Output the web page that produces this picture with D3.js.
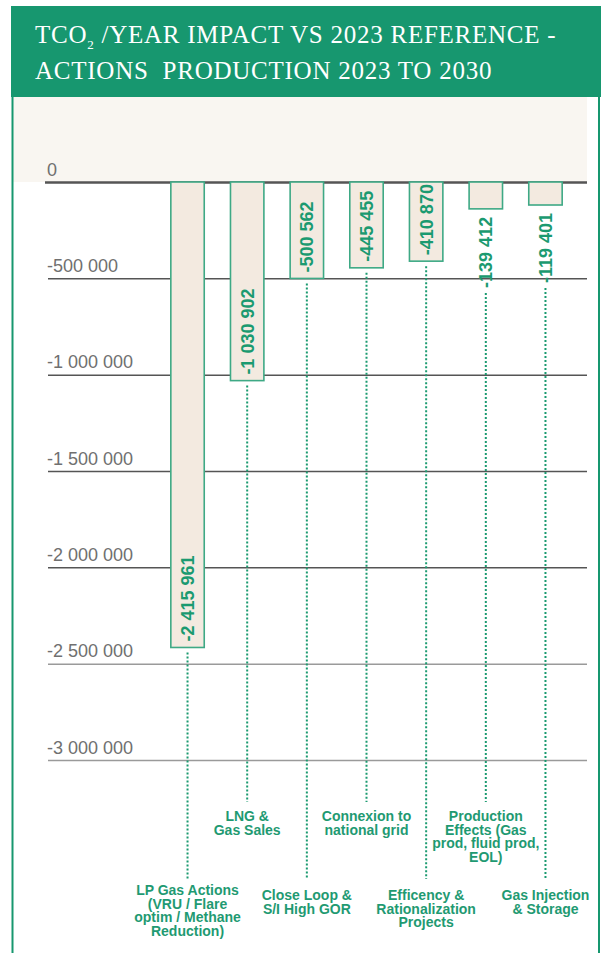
<!DOCTYPE html>
<html>
<head>
<meta charset="utf-8">
<script src="https://cdn.jsdelivr.net/npm/d3@7"></script>
<style>
    body { margin: 0; background: #fff; }
    svg { display: block; }
    .tick-label { font-family: 'Liberation Sans', Arial, sans-serif; font-size: 18px; fill: #707070; }
    .value-label { font-family: 'Liberation Sans', Arial, sans-serif; font-size: 18px; font-weight: bold; fill: #1b9a70; }
    .cat-label { font-family: 'Liberation Sans', Arial, sans-serif; font-size: 14px; font-weight: bold; fill: #1f9a72; }
    .title { font-family: 'Liberation Serif', 'DejaVu Serif', serif; font-size: 25px; letter-spacing: 0.75px; fill: #fff; white-space: pre; }
</style>
</head>
<body>
<svg width="601" height="953"></svg>
<script>
// Chart data
var categories = ['LP Gas Actions', 'LNG & Gas Sales', 'Close Loop & S/I High GOR',
    'Connexion to national grid', 'Efficency & Rationalization Projects',
    'Production Effects', 'Gas Injection & Storage'];
var labelLines = [
    ['LP Gas Actions', '(VRU / Flare', 'optim / Methane', 'Reduction)'],
    ['LNG &', 'Gas Sales'],
    ['Close Loop &', 'S/I High GOR'],
    ['Connexion to', 'national grid'],
    ['Efficency &', 'Rationalization', 'Projects'],
    ['Production', 'Effects (Gas', 'prod, fluid prod,', 'EOL)'],
    ['Gas Injection', '& Storage']
];
var values = [-2415961, -1030902, -500562, -445455, -410870, -139412, -119401];
var tickValues = [0, -500000, -1000000, -1500000, -2000000, -2500000, -3000000];
var titleLine1 = ['TCO', '2', ' /YEAR IMPACT VS 2023 REFERENCE -'];
var titleLine2 = 'ACTIONS  PRODUCTION 2023 TO 2030';

var svg = d3.select('svg');
var svgWidth = +svg.attr('width');
var svgHeight = +svg.attr('height');

var green = '#17976f';
var textGreen = '#1b9a70';

// number format with spaces as thousands separator
var fmt = d3.formatLocale({decimal: '.', thousands: ' ', grouping: [3], currency: ['', ''], minus: '-'}).format(',d');

// Header block
svg.append('rect')
    .attr('x', 11).attr('y', 6)
    .attr('width', svgWidth - 11).attr('height', 91)
    .attr('fill', green);

var t1 = svg.append('text').attr('class', 'title').attr('x', 35).attr('y', 43);
t1.append('tspan').text(titleLine1[0]);
t1.append('tspan').attr('dy', 6).style('font-size', '13px').text(titleLine1[1]);
t1.append('tspan').attr('dy', -6).text(titleLine1[2]);
svg.append('text').attr('class', 'title').attr('x', 35).attr('y', 79).text(titleLine2);

// Scales
var yScale = d3.scaleLinear()
    .domain([0, -3000000])
    .range([182, 760]);

var xScale = d3.scaleBand()
    .domain(categories)
    .range([141, 592])
    .paddingInner(0.44)
    .paddingOuter(0.5);

// Beige band above zero line
svg.append('rect')
    .attr('x', 12).attr('y', 97)
    .attr('width', 587 - 12).attr('height', yScale(0) - 97)
    .attr('fill', '#f9f6f1');

// Side borders
svg.append('line').attr('x1', 12.5).attr('x2', 12.5).attr('y1', 97).attr('y2', svgHeight)
    .attr('stroke', green).attr('stroke-width', 2);
svg.append('line').attr('x1', 599).attr('x2', 599).attr('y1', 97).attr('y2', svgHeight)
    .attr('stroke', green).attr('stroke-width', 2);

// Gridlines + tick labels
var gridLeft = 48, gridRight = 587;
var yAxisG = svg.append('g')
    .attr('transform', 'translate(' + [gridLeft, 0] + ')')
    .call(d3.axisRight(yScale)
        .tickValues(tickValues)
        .tickSize(gridRight - gridLeft)
        .tickFormat(fmt));
yAxisG.select('.domain').remove();
yAxisG.selectAll('.tick line')
    .attr('stroke', function(d) { return d < -2000000 ? '#9a9a9a' : '#555'; })
    .attr('stroke-width', function(d) { return d === 0 ? 2.4 : 1.5; })
    .attr('x1', function(d) { return d === 0 ? -3 : 0; });
yAxisG.selectAll('.tick text')
    .attr('class', 'tick-label')
    .attr('x', -1)
    .attr('dy', -7)
    .attr('text-anchor', 'start')
    .attr('fill', null)
    .attr('font-size', null)
    .attr('font-family', null);
yAxisG.attr('font-size', null).attr('font-family', null);

// Bars
var bars = svg.selectAll('.bar')
    .data(values)
    .enter()
    .append('g')
    .attr('class', 'bar');

bars.append('rect')
    .attr('x', function(d, i) { return xScale(categories[i]); })
    .attr('y', yScale(0))
    .attr('width', xScale.bandwidth())
    .attr('height', function(d) { return yScale(d) - yScale(0); })
    .attr('fill', '#f3eae0')
    .attr('stroke', '#3ea985')
    .attr('stroke-width', 1.6);

// Value labels, rotated; inside the bar when it fits, otherwise below it
var labelRoom = 72;
var labelBottoms = [];
bars.append('text')
    .attr('class', 'value-label')
    .attr('transform', function(d, i) {
        var cx = xScale(categories[i]) + xScale.bandwidth() / 2;
        var inside = yScale(d) - yScale(0) > labelRoom;
        var y = inside ? yScale(d) - 6 : yScale(d) + 8;
        return 'translate(' + [cx + 6.5, y] + ') rotate(-90)';
    })
    .attr('text-anchor', function(d) { return yScale(d) - yScale(0) > labelRoom ? 'start' : 'end'; })
    .text(function(d) { return fmt(d); })
    .each(function(d, i) {
        var inside = yScale(d) - yScale(0) > labelRoom;
        labelBottoms[i] = inside ? yScale(d) : yScale(d) + 8 + this.getComputedTextLength();
    });

// Dotted leader lines and category labels (alternating rows)
var upperEnd = 802, lowerEnd = 879;
var lineGap = 13.7;
bars.append('line')
    .attr('x1', function(d, i) { return xScale(categories[i]) + xScale.bandwidth() / 2; })
    .attr('x2', function(d, i) { return xScale(categories[i]) + xScale.bandwidth() / 2; })
    .attr('y1', function(d, i) { return labelBottoms[i] + 5; })
    .attr('y2', function(d, i) { return i % 2 ? upperEnd : lowerEnd; })
    .attr('stroke', textGreen)
    .attr('stroke-width', 2)
    .attr('stroke-dasharray', '2 2');

bars.append('text')
    .attr('class', 'cat-label')
    .attr('text-anchor', 'middle')
    .each(function(d, i) {
        var cx = xScale(categories[i]) + xScale.bandwidth() / 2;
        var lines = labelLines[i];
        var y0 = i % 2 ? upperEnd + 19 : lowerEnd + 21 - (lines.length > 3 ? 5 : 0);
        d3.select(this).selectAll('tspan')
            .data(lines)
            .enter()
            .append('tspan')
            .attr('x', cx)
            .attr('y', function(l, j) { return y0 + j * lineGap; })
            .text(function(l) { return l; });
    });
</script>
</body>
</html>
